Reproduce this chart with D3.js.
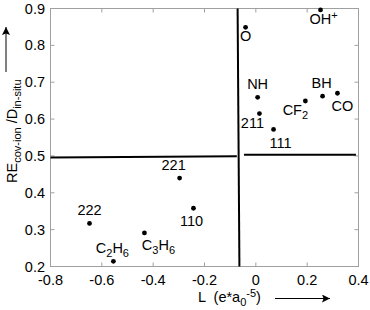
<!DOCTYPE html>
<html>
<head>
<meta charset="utf-8">
<script src="https://cdn.jsdelivr.net/npm/d3@7"></script>
<style>
  body { margin: 0; background: #fff; }
  svg text { font-family: "Liberation Sans", Arial, sans-serif; }
</style>
</head>
<body>
<svg id="chart" width="370" height="310"></svg>
<script>
// points
const names = ['O', 'OH+', 'NH', '211', '111', 'CF2', 'BH', 'CO', '221', '110', '222', 'C2H6', 'C3H6'];
const lValues = [-0.040, 0.252, 0.007, 0.014, 0.069, 0.193, 0.260, 0.318, -0.297, -0.243, -0.648, -0.555, -0.434];
const reValues = [0.849, 0.896, 0.659, 0.615, 0.572, 0.649, 0.662, 0.670, 0.440, 0.358, 0.317, 0.214, 0.291];
// label offsets relative to the dot (px): dx, dy of text baseline
const labelPos = [
  [0, 14], [3, 14], [0, -8], [-7, 14],
  [7, 19], [-10, 14], [-1, -8], [5, 18],
  [-6, -8], [-2, 18], [0, -8], [-1, -8], [14, 17]
];
const xTicks = [-0.8, -0.6, -0.4, -0.2, 0, 0.2, 0.4];
const yTicks = [0.2, 0.3, 0.4, 0.5, 0.6, 0.7, 0.8, 0.9];
// dividing lines (L, RE)
const hLineLeft = [[-0.8, 0.496], [-0.074, 0.499]];
const hLineRight = [[-0.046, 0.503], [0.39, 0.503]];
const vLine = [[-0.071, 0.9], [-0.064, 0.2]];

const svg = d3.select('#chart');
const x = d3.scaleLinear().domain([-0.8, 0.4]).range([50.5, 358.5]);
const y = d3.scaleLinear().domain([0.2, 0.9]).range([266.5, 8.5]);

const frameColor = '#a0a0a0';
const fs = 14.5, sub = 11;

// frame
svg.append('rect')
  .attr('x', x(-0.8)).attr('y', y(0.9))
  .attr('width', x(0.4) - x(-0.8)).attr('height', y(0.2) - y(0.9))
  .attr('fill', 'none').attr('stroke', frameColor).attr('stroke-width', 1);

// inward ticks on all four sides
const tickLen = 4;
xTicks.forEach(t => {
  svg.append('line').attr('x1', x(t)).attr('x2', x(t))
    .attr('y1', y(0.2)).attr('y2', y(0.2) - tickLen).attr('stroke', frameColor);
  svg.append('line').attr('x1', x(t)).attr('x2', x(t))
    .attr('y1', y(0.9)).attr('y2', y(0.9) + tickLen).attr('stroke', frameColor);
});
yTicks.forEach(t => {
  svg.append('line').attr('x1', x(-0.8)).attr('x2', x(-0.8) + tickLen)
    .attr('y1', y(t)).attr('y2', y(t)).attr('stroke', frameColor);
  svg.append('line').attr('x1', x(0.4)).attr('x2', x(0.4) - tickLen)
    .attr('y1', y(t)).attr('y2', y(t)).attr('stroke', frameColor);
});

// tick labels
svg.selectAll('.xt').data(xTicks).enter().append('text')
  .attr('x', d => x(d)).attr('y', 285)
  .attr('text-anchor', 'middle').attr('font-size', fs)
  .text(d => d === 0 ? '0' : d.toFixed(1));
svg.selectAll('.yt').data(yTicks).enter().append('text')
  .attr('x', 45).attr('y', d => y(d) + 5)
  .attr('text-anchor', 'end').attr('font-size', fs)
  .text(d => d.toFixed(1));

// dividing lines
const line = d3.line().x(d => x(d[0])).y(d => y(d[1]));
[hLineLeft, hLineRight, vLine].forEach(seg => {
  svg.append('path').attr('d', line(seg))
    .attr('fill', 'none').attr('stroke', '#000').attr('stroke-width', 2);
});

// points
const pts = names.map((n, i) => ({ name: n, l: lValues[i], re: reValues[i], pos: labelPos[i] }));
svg.selectAll('.dot').data(pts).enter().append('circle')
  .attr('cx', d => x(d.l)).attr('cy', d => y(d.re)).attr('r', 2.4).attr('fill', '#000');

// labels with sub/superscripts
const lbl = svg.selectAll('.lbl').data(pts).enter().append('text')
  .attr('x', d => x(d.l) + d.pos[0]).attr('y', d => y(d.re) + d.pos[1])
  .attr('text-anchor', 'middle').attr('font-size', fs);
lbl.each(function (d) {
  const t = d3.select(this);
  if (/^\d+$/.test(d.name)) { t.text(d.name); return; }
  let shift = 0;
  d.name.match(/[A-Za-z]+|\d+|\+/g).forEach(p => {
    if (/^\d+$/.test(p)) {
      t.append('tspan').attr('font-size', sub).attr('dy', 4 - shift).text(p);
      shift = 4;
    } else if (p === '+') {
      t.append('tspan').attr('font-size', sub).attr('dy', -5 - shift).text('+');
      shift = -5;
    } else {
      t.append('tspan').attr('dy', -shift).text(p);
      shift = 0;
    }
  });
});

// x axis title
const xt = svg.append('text').attr('x', 198).attr('y', 302).attr('font-size', fs)
  .style('white-space', 'pre');
xt.append('tspan').text('L  (e*a');
xt.append('tspan').attr('font-size', sub).attr('dy', 4).text('0');
xt.append('tspan').attr('font-size', sub).attr('dy', -9).text('-5');
xt.append('tspan').attr('dy', 5).text(')');

// arrows
svg.append('defs').append('marker')
  .attr('id', 'ah').attr('viewBox', '0 0 10 10').attr('refX', 10).attr('refY', 5)
  .attr('markerWidth', 12).attr('markerHeight', 8).attr('markerUnits', 'userSpaceOnUse')
  .attr('orient', 'auto')
  .append('path').attr('d', 'M0,0 L10,5 L0,10 L2,5 Z').attr('fill', '#000');
svg.append('line').attr('x1', 275).attr('y1', 298.5).attr('x2', 330).attr('y2', 298.5)
  .attr('stroke', '#000').attr('stroke-width', 1).attr('marker-end', 'url(#ah)');
svg.append('line').attr('x1', 6).attr('y1', 72).attr('x2', 6).attr('y2', 27)
  .attr('stroke', '#000').attr('stroke-width', 1).attr('marker-end', 'url(#ah)');

// y axis title
const yt = svg.append('text').attr('transform', 'translate(17,183) rotate(-90)')
  .attr('font-size', fs);
yt.append('tspan').text('RE');
yt.append('tspan').attr('font-size', sub).attr('dy', 4).text('cov-ion');
yt.append('tspan').attr('dy', -4).text(' /D');
yt.append('tspan').attr('font-size', sub).attr('dy', 4).text('in-situ');
</script>
</body>
</html>
